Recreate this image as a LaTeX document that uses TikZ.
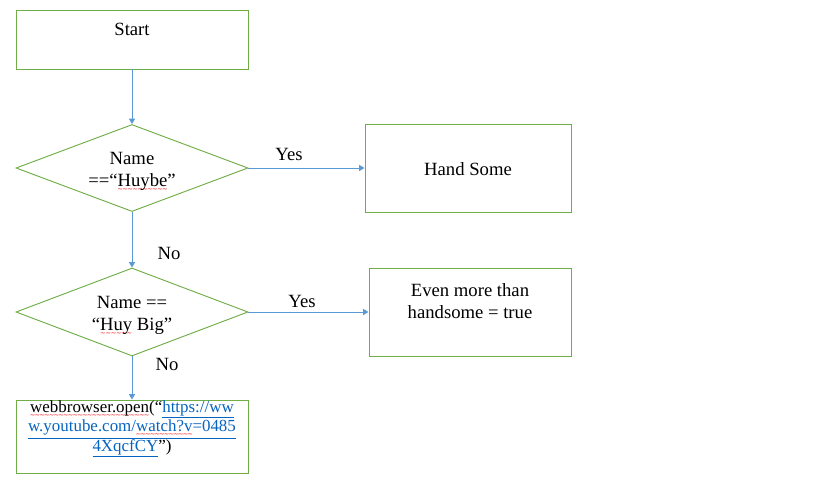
\documentclass[tikz,border=0pt]{standalone}
\usepackage{fontspec}
\setmainfont{Liberation Serif}
\newfontfamily\wavefont{DejaVu Sans}
\usetikzlibrary{shapes.geometric,arrows.meta}
\definecolor{boxgreen}{HTML}{70AD47}
\definecolor{arrowblue}{HTML}{5B9BD5}
\definecolor{linkblue}{HTML}{0563C1}
\definecolor{spellred}{HTML}{FF0000}
\newcommand{\redwave}[1]{\setbox0\hbox{#1}\rlap{\raisebox{-3.6pt}{\hbox to \wd0{\color{spellred}\xleaders\hbox{\wavefont\fontsize{5}{5}\selectfont\kern-0.35pt∼\kern-0.35pt}\hfill}}}\box0\relax}
\newcommand{\weblink}[1]{\textcolor{linkblue}{\underline{#1}}}
\begin{document}
\begin{tikzpicture}[x=0.75pt,y=-0.75pt,
  every node/.style={font=\fontsize{14}{16.5}\selectfont},
  procbox/.style={draw=boxgreen,line width=0.7pt,rectangle,inner sep=0pt},
  decbox/.style={draw=boxgreen,line width=0.7pt,diamond,inner sep=0pt,aspect=2.67},
  txt/.style={align=center,inner sep=0pt},
  conn/.style={draw=arrowblue,line width=0.7pt,-{Triangle[length=4pt,width=4.5pt]}}
]
\useasboundingbox (0,0) rectangle (825,483);
% boxes
\node[procbox,minimum width=232*0.75pt,minimum height=59*0.75pt] (start) at (132,39.5) {};
\node[txt] (starttxt) at (132,29) {Start};
\node[decbox,minimum width=232*0.75pt,minimum height=87*0.75pt] (d1) at (132,168) {};
\node[txt] (d1txt) at (132,172) {Name\\==“\redwave{Huybe}”};
\node[procbox,minimum width=206*0.75pt,minimum height=88*0.75pt] (hand) at (468,168) {};
\node[txt] (handtxt) at (468,169) {Hand Some};
\node[decbox,minimum width=232*0.75pt,minimum height=88*0.75pt] (d2) at (132,312) {};
\node[txt] (d2txt) at (132,316) {Name ==\\“\redwave{Huy} Big”};
\node[procbox,minimum width=202*0.75pt,minimum height=88*0.75pt] (more) at (470,312) {};
\node[txt] (moretxt) at (470,301.5) {Even more than\\handsome = true};
\node[procbox,minimum width=232*0.75pt,minimum height=73*0.75pt] (web) at (132,436.5) {};
\node[txt,font=\fontsize{12.7}{14.6}\selectfont] (webtxt) at (132,429) {\redwave{webbrowser.open}(“\weblink{https://ww}\\\weblink{w.youtube.com/\redwave{watch?v}=0485}\\\weblink{4XqcfCY}”)};
% connectors
\draw[conn] (start.south) -- (d1.north);
\draw[conn] (d1.east) -- (hand.west);
\draw[conn] (d1.south) -- (d2.north);
\draw[conn] (d2.east) -- (more.west);
\draw[conn] (d2.south) -- (web.north);
% labels
\node[txt] (yes1) at (289,154) {Yes};
\node[txt] (yes2) at (302,301) {Yes};
\node[txt] (no1) at (169,253) {No};
\node[txt] (no2) at (167,364) {No};
\end{tikzpicture}
\end{document}
